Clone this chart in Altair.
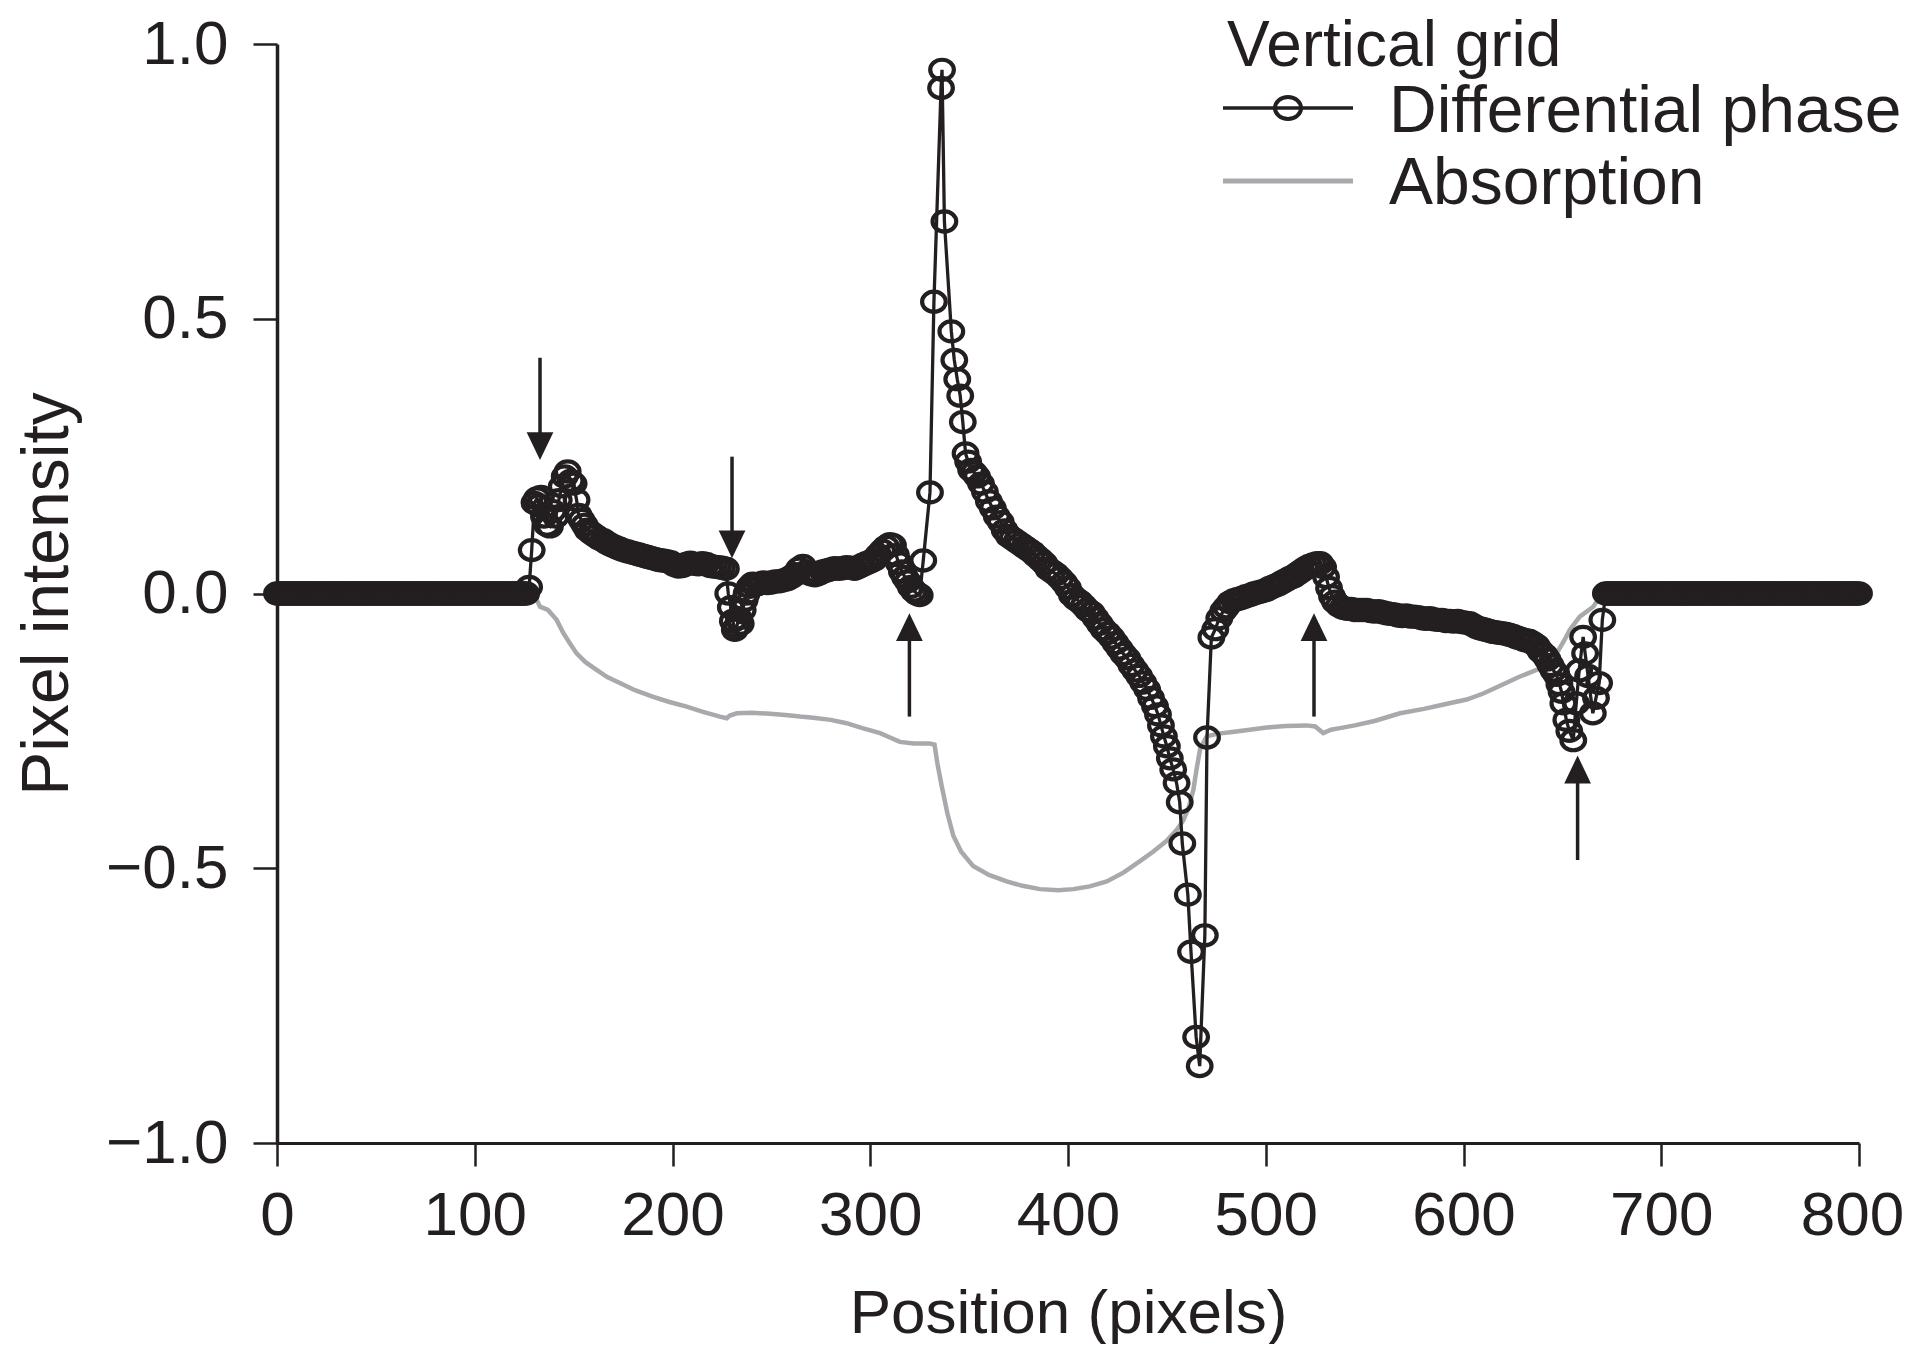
import altair as alt
import pandas as pd

FONT = "Liberation Sans"
BLACK = "#231f20"
GRAY = "#a7a9ac"

# ---------------- data ----------------
# flat parts of the phase profile (sampled every pixel, value 0)
flat_left_x = list(range(0, 127))
flat_left_y = [0.0] * len(flat_left_x)
flat_right_x = list(range(672, 801))
flat_right_y = [0.0] * len(flat_right_x)

mid_x = [127.5, 128.8, 130.2, 131.5, 132.5, 133.5, 135, 136.5, 138, 139.5, 141, 142.5, 144, 145.5,
         147, 148.5, 150, 151.5, 152.5, 154, 155.5, 157, 159, 161, 163, 165, 167, 169, 171, 173,
         175, 177, 179, 181, 183, 185, 187, 189, 191, 193, 195, 197, 199, 201, 203, 205, 207, 209,
         211, 213, 215, 217, 219, 221, 223, 225, 227, 228.2, 229.5, 230.5, 231.5, 232.5, 233.5,
         234.5, 235.5, 236.5, 237.5, 239, 240.5, 242, 244, 246, 248, 250, 252, 254, 256, 258, 260,
         262, 264, 266, 268, 270, 272, 274, 276, 278, 280, 282, 284, 286, 288, 290, 292, 294, 296,
         298, 300, 302, 304, 306, 308, 310, 311.5, 313, 314.5, 316, 317.5, 319, 320.5, 322, 323.5,
         325, 326.8, 330.2, 332.2, 335.8, 336.3, 337.5, 341, 342.5, 344, 345.5, 346.8, 348.2,
         349.5, 351, 352.5, 354, 356, 358, 360, 362, 364, 366, 368, 370, 372, 374, 376, 378, 380,
         382, 384, 386, 388, 390, 392, 394, 396, 398, 400, 402, 404, 406, 408, 410, 412, 414, 416,
         418, 420, 422, 424, 426, 428, 430, 432, 434, 436, 438, 440, 442, 444, 445.5, 447, 448.5,
         450, 451.5, 453.2, 454.9, 456.5, 457.8, 460.6, 462.2, 464.8, 466.6, 469.2, 470.3, 472.5,
         474.5, 476.5, 478.5, 480, 482, 484, 486, 488, 490, 492, 494, 496, 498, 500, 502, 504, 506,
         508, 510, 512, 514, 516, 518, 520, 522, 524, 526, 527.5, 529, 530.5, 532, 533.5, 535, 537,
         539, 541, 543, 545, 547, 549, 551, 553, 555, 557, 559, 561, 563, 565, 567, 569, 571, 573,
         575, 577, 579, 581, 583, 585, 587, 589, 591, 593, 595, 597, 599, 601, 603, 605, 607, 609,
         611, 613, 615, 617, 619, 621, 623, 625, 627, 629, 631, 633, 635, 637, 639, 641, 642.5, 644,
         645.5, 647, 648.5, 649.6, 650.5, 652, 653.5, 655.5, 657, 658.5, 660.5, 661.5, 663, 665.4,
         667, 668.6, 670.2]
mid_y = [0.012, 0.079, 0.165, 0.173, 0.16, 0.176, 0.14, 0.125, 0.122, 0.15, 0.14, 0.17, 0.195, 0.213,
         0.222, 0.205, 0.2, 0.17, 0.143, 0.134, 0.125, 0.116, 0.11, 0.105, 0.1, 0.097, 0.092, 0.088,
         0.085, 0.082, 0.079, 0.077, 0.075, 0.073, 0.071, 0.069, 0.067, 0.065, 0.063, 0.061, 0.06,
         0.059, 0.057, 0.052, 0.049, 0.05, 0.054, 0.056, 0.054, 0.053, 0.055, 0.054, 0.05, 0.049,
         0.048, 0.047, 0.045, 0.0, -0.025, -0.05, -0.066, -0.06, -0.045, -0.055, -0.03, -0.012, 0.0,
         0.012, 0.018, 0.016, 0.018, 0.02, 0.019, 0.02, 0.022, 0.022, 0.024, 0.026, 0.03, 0.035,
         0.045, 0.05, 0.04, 0.035, 0.033, 0.036, 0.04, 0.042, 0.044, 0.046, 0.045, 0.046, 0.048,
         0.047, 0.045, 0.048, 0.052, 0.055, 0.058, 0.062, 0.07, 0.078, 0.085, 0.09, 0.088, 0.07,
         0.055, 0.04, 0.03, 0.022, 0.012, 0.005, 0.0, -0.003, 0.06, 0.184, 0.531, 0.92, 0.953, 0.677,
         0.477, 0.425, 0.39, 0.36, 0.312, 0.255, 0.24, 0.225, 0.22, 0.213, 0.2, 0.185, 0.168, 0.155,
         0.14, 0.13, 0.115, 0.105, 0.1, 0.095, 0.09, 0.085, 0.08, 0.075, 0.068, 0.062, 0.055, 0.045,
         0.04, 0.035, 0.028, 0.02, 0.01, -0.003, -0.01, -0.015, -0.022, -0.03, -0.035, -0.045,
         -0.055, -0.065, -0.072, -0.08, -0.09, -0.1, -0.11, -0.118, -0.13, -0.14, -0.15, -0.162,
         -0.174, -0.19, -0.205, -0.22, -0.24, -0.26, -0.278, -0.3, -0.32, -0.345, -0.38, -0.455,
         -0.548, -0.652, -0.807, -0.86, -0.622, -0.262, -0.08, -0.065, -0.045, -0.032, -0.025,
         -0.016, -0.012, -0.01, -0.008, -0.005, -0.003, 0.0, 0.002, 0.004, 0.006, 0.01, 0.013, 0.016,
         0.02, 0.024, 0.028, 0.031, 0.036, 0.041, 0.046, 0.05, 0.053, 0.055, 0.055, 0.048, 0.03,
         0.01, -0.005, -0.015, -0.022, -0.026, -0.028, -0.028, -0.03, -0.03, -0.03, -0.03, -0.032,
         -0.033, -0.032, -0.034, -0.036, -0.037, -0.038, -0.04, -0.041, -0.04, -0.042, -0.042,
         -0.043, -0.045, -0.046, -0.045, -0.047, -0.048, -0.048, -0.05, -0.05, -0.051, -0.05,
         -0.052, -0.053, -0.054, -0.058, -0.062, -0.064, -0.066, -0.068, -0.07, -0.071, -0.072,
         -0.073, -0.075, -0.077, -0.08, -0.082, -0.085, -0.086, -0.09, -0.095, -0.105, -0.112,
         -0.12, -0.13, -0.14, -0.148, -0.165, -0.179, -0.2, -0.23, -0.25, -0.267, -0.2, -0.14,
         -0.079, -0.109, -0.15, -0.218, -0.19, -0.163, -0.048]

phase_x = flat_left_x + mid_x + flat_right_x
phase_y = flat_left_y + mid_y + flat_right_y

absorption_x = [0, 126.5, 130.5, 133, 137, 141.4, 144.8, 148, 151.5, 156, 161.6, 167, 173.4, 181,
                190.3, 198, 207.2, 215, 224, 227.4, 229, 232.5, 240, 249.3, 257, 264.5, 271.2, 280,
                288, 296, 305, 310, 315, 322, 330, 332.5, 334, 336, 339, 342, 346, 352, 360, 369,
                377, 385.8, 395, 402.7, 411, 419.6, 428, 436.4, 443, 449.9, 455, 458.3, 461, 463.4,
                465, 466.8, 470.1, 476, 483, 490, 500.5, 510, 520.7, 525, 529.1, 533, 537.5, 545,
                555, 567.9, 580, 590, 601.6, 610, 620.1, 628, 637, 642, 647.1, 651, 653.8, 658.8,
                665.6, 669, 672, 800]
absorption_y = [0, 0, -0.005, -0.024, -0.03, -0.048, -0.072, -0.09, -0.109, -0.125, -0.139, -0.152,
                -0.163, -0.176, -0.188, -0.197, -0.206, -0.215, -0.224, -0.227, -0.222, -0.218,
                -0.217, -0.219, -0.221, -0.224, -0.226, -0.23, -0.236, -0.245, -0.254, -0.262,
                -0.27, -0.273, -0.273, -0.275, -0.31, -0.348, -0.4, -0.441, -0.47, -0.496, -0.512,
                -0.524, -0.532, -0.538, -0.54, -0.538, -0.533, -0.524, -0.508, -0.487, -0.47,
                -0.45, -0.43, -0.413, -0.39, -0.357, -0.32, -0.283, -0.26, -0.255, -0.252, -0.249,
                -0.244, -0.241, -0.24, -0.242, -0.254, -0.248, -0.245, -0.24, -0.232, -0.218, -0.21,
                -0.202, -0.193, -0.182, -0.165, -0.152, -0.139, -0.126, -0.109, -0.085, -0.066,
                -0.042, -0.024, -0.006, 0, 0]

# arrows: position, tail and tip (data units)
arrow_x = [133, 230.1, 319.8, 524.4, 657.7]
arrow_tail = [0.429, 0.249, -0.224, -0.224, -0.485]
arrow_tip = [0.243, 0.064, -0.036, -0.036, -0.295]
arrow_dir = ["down", "down", "up", "up", "up"]

x_ticks = [0, 100, 200, 300, 400, 500, 600, 700, 800]
y_ticks = [-1.0, -0.5, 0.0, 0.5, 1.0]

legend_title = "Vertical grid"
legend_labels = ["Differential phase", "Absorption"]

# ---------------- chart ----------------
phase = pd.DataFrame({"x": phase_x, "y": phase_y})
absorption = pd.DataFrame({"x": absorption_x, "y": absorption_y})
arrows = pd.DataFrame({"x": arrow_x, "y": arrow_tail, "tip": arrow_tip, "dir": arrow_dir})
head_len = 0.03  # shaft stops inside arrow head
arrows["y2"] = [t + (head_len if d == "down" else -head_len) for t, d in zip(arrow_tip, arrow_dir)]

xs = alt.Scale(domain=[0, 800], nice=False, zero=False)
ys = alt.Scale(domain=[-1, 1], nice=False, zero=False)
xa = alt.Axis(values=x_ticks, format="d", title="Position (pixels)", grid=False,
              tickSize=23, tickWidth=2.5, domainWidth=3, labelPadding=19, titlePadding=37,
              labelFontSize=62, titleFontSize=62, labelFlush=False,
              labelOffset={"condition": {"test": "datum.value == 800", "value": -7}, "value": 0})
ya = alt.Axis(values=y_ticks, format=".1f", title="Pixel intensity", grid=False,
              tickSize=24, tickWidth=2.5, domainWidth=3.5, labelPadding=25, titlePadding=24,
              labelFontSize=62, titleFontSize=66)

X = alt.X("x:Q", scale=xs, axis=xa)
Y = alt.Y("y:Q", scale=ys, axis=ya)

ELLIPSE = "M-1,0A1,0.85,0,1,0,1,0A1,0.85,0,1,0,-1,0Z"
DOWN_HEAD = "M0,0L-0.48,-1L0.48,-1Z"
UP_HEAD = "M0,0L-0.48,1L0.48,1Z"

absorption_line = alt.Chart(absorption).mark_line(color=GRAY, strokeWidth=4.5).encode(x=X, y=Y)
phase_line = alt.Chart(phase).mark_line(color=BLACK, strokeWidth=3.3).encode(x=X, y=Y)
phase_pts = alt.Chart(phase).mark_point(
    shape=ELLIPSE, filled=False, stroke=BLACK, strokeWidth=4.2, size=560, opacity=1
).encode(x=X, y=Y)

shafts = alt.Chart(arrows).mark_rule(color=BLACK, strokeWidth=3.5).encode(
    x=X, y=Y, y2=alt.Y2("y2:Q"))
heads = alt.Chart(arrows).mark_point(filled=True, fill=BLACK, strokeWidth=0, size=3100, opacity=1).encode(
    x=X, y=alt.Y("tip:Q", scale=ys, axis=ya),
    shape=alt.Shape("dir:N", scale=alt.Scale(domain=["down", "up"], range=[DOWN_HEAD, UP_HEAD]), legend=None))

# manual legend (pixel positions inside plot area)
one = pd.DataFrame({"t": [0]})
LFS = 66
lg_title = alt.Chart(pd.DataFrame({"t": [legend_title]})).mark_text(
    align="left", baseline="alphabetic", fontSize=64, font=FONT, color=BLACK
).encode(x=alt.value(950), y=alt.value(22), text="t:N")
lg_t1 = alt.Chart(pd.DataFrame({"t": [legend_labels[0]]})).mark_text(
    align="left", baseline="alphabetic", fontSize=LFS, font=FONT, color=BLACK
).encode(x=alt.value(1112), y=alt.value(88), text="t:N")
lg_t2 = alt.Chart(pd.DataFrame({"t": [legend_labels[1]]})).mark_text(
    align="left", baseline="alphabetic", fontSize=LFS, font=FONT, color=BLACK
).encode(x=alt.value(1112), y=alt.value(160), text="t:N")
lg_l1 = alt.Chart(one).mark_rule(color=BLACK, strokeWidth=3.5).encode(
    x=alt.value(946), x2=alt.value(1076), y=alt.value(64))
lg_p1 = alt.Chart(one).mark_point(shape=ELLIPSE, filled=False, stroke=BLACK, strokeWidth=4,
                                  size=680, opacity=1).encode(x=alt.value(1011), y=alt.value(64))
lg_l2 = alt.Chart(one).mark_rule(color=GRAY, strokeWidth=5).encode(
    x=alt.value(946), x2=alt.value(1076), y=alt.value(137))

chart = alt.layer(
    absorption_line, phase_line, phase_pts, shafts, heads,
    lg_title, lg_t1, lg_t2, lg_l1, lg_p1, lg_l2
).properties(
    width=1582, height=1099,
    autosize=alt.AutoSizeParams(type="none"),
    padding={"left": 269, "top": 36, "right": 47, "bottom": 201},
).configure_view(stroke=None).configure_axis(
    labelFont=FONT, titleFont=FONT, labelColor=BLACK, titleColor=BLACK,
    domainColor=BLACK, tickColor=BLACK, titleFontWeight="normal"
)

chart.save("out.html", embed_options={"renderer": "svg", "actions": False})
